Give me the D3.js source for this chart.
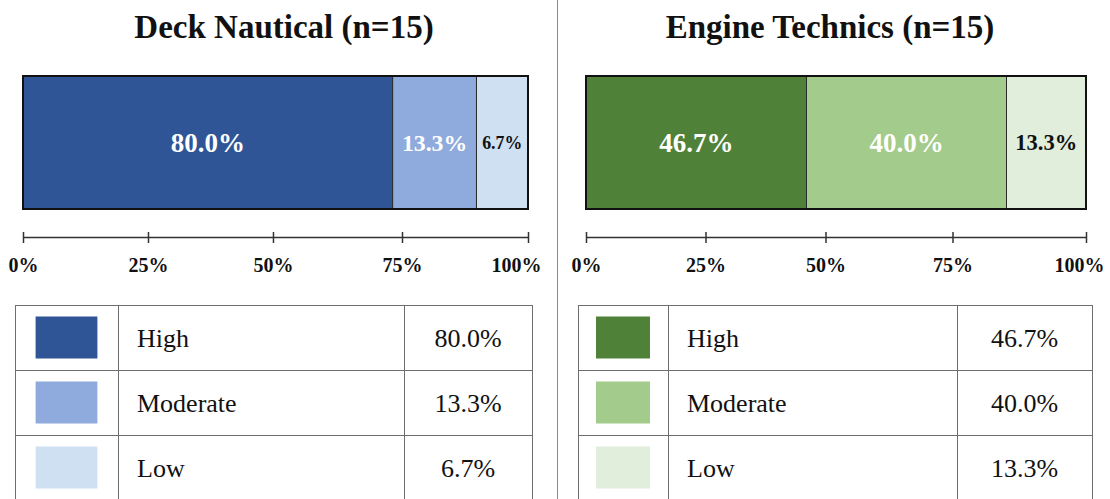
<!DOCTYPE html>
<html lang="en">
<head>
<meta charset="UTF-8">
<title>Deck Nautical vs Engine Technics</title>
<script src="https://cdnjs.cloudflare.com/ajax/libs/d3/7.8.5/d3.min.js"></script>
<style>
	body { margin: 0; background: #fff; }
	svg text { font-family: "Liberation Serif", "Times New Roman", serif; fill: #111; }
	.axis path, .axis line { stroke: #333; stroke-width: 1.5; }
</style>
</head>
<body>
<div id="container"></div>
<script>
	var levels = ["High", "Moderate", "Low"];
	var titles = ["Deck Nautical (n=15)", "Engine Technics (n=15)"];

	// reported shares (bar labels + table)
	var deckPct = [80.0, 13.3, 6.7];
	var enginePct = [46.7, 40.0, 13.3];

	// segment widths as actually drawn in the bars (% of axis)
	var deckBar = [73.2, 16.6, 10.2];
	var engineBar = [44.1, 40.0, 15.9];

	var tickLabels = ["0%", "25%", "50%", "75%", "100%"];
	var deckTicks = [0, 24.75, 49.5, 75.05, 100];
	var engineTicks = [0, 23.9, 47.9, 73.3, 100];

	var deckColors = ["#2f5597", "#8faadc", "#cfe0f3"];
	var engineColors = ["#4f8238", "#a3cb8b", "#e1eedb"];
	var labelColors = ["#fff", "#fff", "#111"];

	var width = 1110, height = 499;
	var barTop = 76, barH = 133;
	var axisY = 237;
	var tableTop = 305, rowH = 65;

	var panels = [
		{ title: titles[0], pct: deckPct, bar: deckBar, ticks: deckTicks, colors: deckColors,
		  left: 23, right: 528, titleX: 284, limit: 541, cols: [15, 118, 404, 532] },
		{ title: titles[1], pct: enginePct, bar: engineBar, ticks: engineTicks, colors: engineColors,
		  left: 586, right: 1086, titleX: 830, limit: 1104, cols: [578, 668, 957, 1092] }
	];

	var svg = d3.select("#container").append("svg")
		.attr("width", width)
		.attr("height", height);

	// divider between the two panels
	svg.append("line")
		.attr("x1", 557.5).attr("x2", 557.5)
		.attr("y1", 0).attr("y2", height)
		.attr("stroke", "#8a8a8a")
		.attr("stroke-width", 1);

	panels.forEach(function(p) {
		var x = d3.scaleLinear().domain([0, 100]).range([p.left, p.right]);
		var g = svg.append("g");

		g.append("text")
			.attr("x", p.titleX)
			.attr("y", 38)
			.attr("text-anchor", "middle")
			.attr("font-size", 33)
			.attr("font-weight", "bold")
			.text(p.title);

		var starts = d3.cumsum([0].concat(p.bar));

		g.selectAll(".seg").data(p.bar).join("rect")
			.attr("class", "seg")
			.attr("x", function(d, i) { return x(starts[i]); })
			.attr("width", function(d, i) { return x(starts[i] + d) - x(starts[i]); })
			.attr("y", barTop)
			.attr("height", barH)
			.attr("fill", function(d, i) { return p.colors[i]; })
			.attr("stroke", "#2a2a2a")
			.attr("stroke-width", 1);

		g.append("rect")
			.attr("x", x(0))
			.attr("y", barTop)
			.attr("width", x(100) - x(0))
			.attr("height", barH)
			.attr("fill", "none")
			.attr("stroke", "#111")
			.attr("stroke-width", 2);

		// segment labels, shrunk to fit narrow segments
		g.selectAll(".seg-label").data(p.pct).join("text")
			.attr("class", "seg-label")
			.attr("x", function(d, i) { return x(starts[i] + p.bar[i] / 2); })
			.attr("y", barTop + barH / 2)
			.attr("dy", "0.35em")
			.attr("text-anchor", "middle")
			.attr("font-weight", "bold")
			.attr("font-size", 27)
			.style("fill", function(d, i) { return labelColors[i]; })
			.text(function(d) { return d.toFixed(1) + "%"; })
			.each(function(d, i) {
				var w = x(starts[i] + p.bar[i]) - x(starts[i]);
				var len = this.getComputedTextLength();
				if (len > 0.78 * w) d3.select(this).attr("font-size", 27 * 0.78 * w / len);
			});

		// axis
		var axis = d3.axisBottom(x)
			.tickValues(p.ticks)
			.tickFormat(function(d, i) { return tickLabels[i]; })
			.tickSizeOuter(0);

		var ag = g.append("g")
			.attr("class", "axis")
			.attr("transform", "translate(0," + axisY + ")")
			.call(axis);
		ag.selectAll(".tick line").attr("y1", -5).attr("y2", 6);
		ag.selectAll(".tick text")
			.attr("y", 28)
			.attr("dy", "0.35em")
			.attr("font-size", 20)
			.attr("font-weight", "bold")
			.attr("font-family", null)
			.each(function(d) {
				var b = this.getBBox();
				var tx = x(d);
				if (tx + b.width / 2 > p.limit) d3.select(this).attr("x", p.limit - b.width / 2 - tx);
			});

		// legend table
		var c = p.cols;
		var tableBottom = tableTop + levels.length * rowH;
		var rows = g.selectAll(".row").data(levels).join("g")
			.attr("class", "row")
			.attr("transform", function(d, i) { return "translate(0," + (tableTop + i * rowH) + ")"; });

		var swW = (c[1] - c[0]) * 0.6, swH = 42;
		rows.append("rect")
			.attr("x", (c[0] + c[1]) / 2 - swW / 2)
			.attr("y", rowH / 2 - swH / 2)
			.attr("width", swW)
			.attr("height", swH)
			.attr("fill", function(d, i) { return p.colors[i]; });

		rows.append("text")
			.attr("x", c[1] + 19)
			.attr("y", rowH / 2)
			.attr("dy", "0.35em")
			.attr("font-size", 26)
			.text(function(d) { return d; });

		rows.append("text")
			.attr("x", (c[2] + c[3]) / 2)
			.attr("y", rowH / 2)
			.attr("dy", "0.35em")
			.attr("text-anchor", "middle")
			.attr("font-size", 26)
			.text(function(d, i) { return p.pct[i].toFixed(1) + "%"; });

		var lines = g.append("g")
			.attr("stroke", "#6e6e6e")
			.attr("stroke-width", 1);
		d3.range(levels.length + 1).forEach(function(i) {
			lines.append("line")
				.attr("x1", c[0]).attr("x2", c[3])
				.attr("y1", tableTop + i * rowH + 0.5).attr("y2", tableTop + i * rowH + 0.5);
		});
		c.forEach(function(cx) {
			lines.append("line")
				.attr("x1", cx + 0.5).attr("x2", cx + 0.5)
				.attr("y1", tableTop).attr("y2", tableBottom);
		});
	});
</script>
</body>
</html>
